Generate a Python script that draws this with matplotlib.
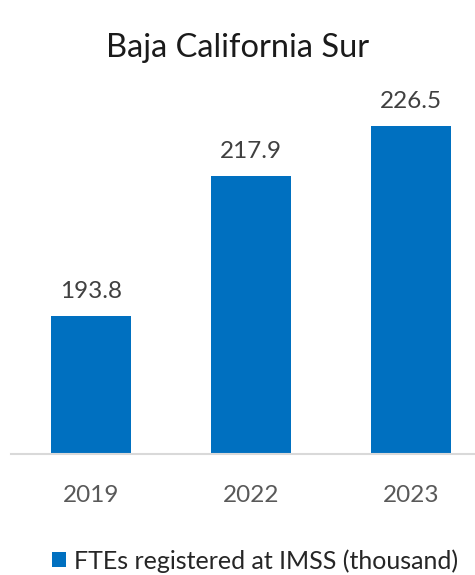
import matplotlib.pyplot as plt

# Chart data
years = ["2019", "2022", "2023"]
ftes = [193.8, 217.9, 226.5]
series_name = "FTEs registered at IMSS (thousand)"

BAR_COLOR = "#0070C0"
plt.rcParams["font.family"] = ["Lato", "DejaVu Sans"]

W, H = 475, 575
fig = plt.figure(figsize=(W / 100, H / 100), dpi=100)

# axes placed in pixel terms (right side runs past the figure edge, as in the source)
left, right, top, bottom = 11, 491, 106, 454
ax = fig.add_axes([left / W, 1 - bottom / H, (right - left) / W, (bottom - top) / H])

x = range(len(years))
bars = ax.bar(x, ftes, width=0.5, color=BAR_COLOR, label=series_name, zorder=2)
ax.set_xlim(-0.5, len(years) - 0.5)
ax.set_ylim(170, 230)

for rect, v in zip(bars, ftes):
    ax.annotate(f"{v:.1f}", (rect.get_x() + rect.get_width() / 2, v),
                xytext=(0, 10), textcoords="offset points",
                ha="center", va="bottom", fontsize=17.5, color="#404040")

ax.set_xticks(list(x))
ax.set_xticklabels(years, fontsize=17.5, color="#595959")
ax.tick_params(axis="x", length=0, pad=22)
ax.set_yticks([])
for s in ["top", "left", "right"]:
    ax.spines[s].set_visible(False)
ax.spines["bottom"].set_color("#d9d9d9")
ax.spines["bottom"].set_linewidth(1.5)

fig.text(0.5, 1 - 48 / H, "Baja California Sur", ha="center", va="center",
         fontsize=23.5, color="#1a1a1a")

fig.legend(handles=[bars], labels=[series_name], loc="center",
           bbox_to_anchor=(255 / W, 1 - 561 / H), frameon=False,
           fontsize=18, handlelength=0.55, handleheight=0.55, handletextpad=0.3,
           labelcolor="#262626")

fig.savefig("out.png", dpi=100)
